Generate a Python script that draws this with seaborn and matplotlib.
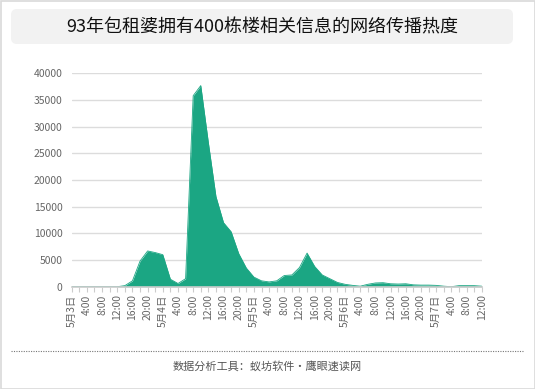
import numpy as np
import pandas as pd
import matplotlib
matplotlib.use("Agg")
import matplotlib.pyplot as plt
import seaborn as sns
from matplotlib.patches import FancyBboxPatch, Rectangle
from matplotlib.lines import Line2D
from matplotlib.transforms import IdentityTransform

# ---- data ----
title = "93年包租婆拥有400栋楼相关信息的网络传播热度"
footer = "数据分析工具：蚁坊软件·鹰眼速读网"
hours = list(range(0, 110, 2))  # 5月3日 0:00 .. 5月7日 12:00, every 2 hours
heat = [0, 0, 0, 0, 0, 0, 0, 200, 1100, 4800,
        6700, 6400, 6000, 1400, 600, 1500, 35800, 37700, 27000, 16900,
        12000, 10300, 6200, 3500, 1800, 1100, 900, 1100, 2100, 2200,
        3600, 6300, 3800, 2200, 1500, 800, 450, 250, 100, 450,
        700, 750, 550, 500, 550, 350, 300, 300, 250, 100,
        0, 200, 200, 200, 100]
label_hours = list(range(0, 110, 4))
tick_labels = ["5月3日", "4:00", "8:00", "12:00", "16:00", "20:00",
               "5月4日", "4:00", "8:00", "12:00", "16:00", "20:00",
               "5月5日", "4:00", "8:00", "12:00", "16:00", "20:00",
               "5月6日", "4:00", "8:00", "12:00", "16:00", "20:00",
               "5月7日", "4:00", "8:00", "12:00"]
y_ticks = [0, 5000, 10000, 15000, 20000, 25000, 30000, 35000, 40000]

df = pd.DataFrame({"hour": hours, "heat": heat})

sns.set_theme(style="white")
plt.rcParams["font.family"] = ["Noto Sans CJK SC", "DejaVu Sans"]

W, H = 535, 389
fig = plt.figure(figsize=(W / 100, H / 100), dpi=100)
fig.patch.set_facecolor("white")

ax = fig.add_axes([71.7 / W, 1 - 286.7 / H, 410 / W, 213.4 / H])
color = "#1ba683"
sns.lineplot(data=df, x="hour", y="heat", ax=ax, color=color, linewidth=0.6)
ax.fill_between(df["hour"], df["heat"], color=color, linewidth=0)

ax.set_xlim(0, 108)
ax.set_ylim(0, 40000)
ax.set_xlabel("")
ax.set_ylabel("")
ax.set_yticks(y_ticks)
ax.set_yticklabels([str(v) for v in y_ticks])
ax.yaxis.grid(True, color="#dcdcdc", linewidth=1)
ax.set_axisbelow(True)

ax.set_xticks(label_hours)
ax.set_xticklabels(tick_labels, rotation=90)
ax.set_xticks([h for h in hours if h % 4 != 0], minor=True)
ax.tick_params(axis="x", which="both", length=3.5, width=0.8, color="#cccccc",
               direction="out", bottom=True, labelsize=7.5, labelcolor="#666666", pad=2)
ax.tick_params(axis="y", length=0, labelsize=7.5, labelcolor="#666666", pad=6.5)

for s in ["left", "top", "right"]:
    ax.spines[s].set_visible(False)
ax.spines["bottom"].set_color("#cccccc")
ax.spines["bottom"].set_linewidth(1.2)
ax.spines["bottom"].set_zorder(5)

# ---- decorations (pixel coordinates) ----
ident = IdentityTransform()
fig.patches.append(Rectangle((0.5, 0.5), W - 1, H - 1, transform=ident,
                             facecolor="none", edgecolor="#d9d9d9", linewidth=1.2))
fig.patches.append(FancyBboxPatch((11, H - 44), 502, 35, transform=ident,
                                  boxstyle="round,pad=0,rounding_size=6",
                                  facecolor="#f2f2f2", edgecolor="none"))
fig.text(262, H - 27, title, transform=ident, ha="center", va="center",
         fontsize=13, color="#111111")
fig.lines.append(Line2D([11, 524], [H - 350.5, H - 350.5], transform=ident,
                        color="#777777", linestyle=(0, (1, 1.2)), linewidth=0.8))
fig.text(267.5, H - 366.5, footer, transform=ident, ha="center", va="center",
         fontsize=8, color="#555555")

fig.savefig("out.png", dpi=100)
